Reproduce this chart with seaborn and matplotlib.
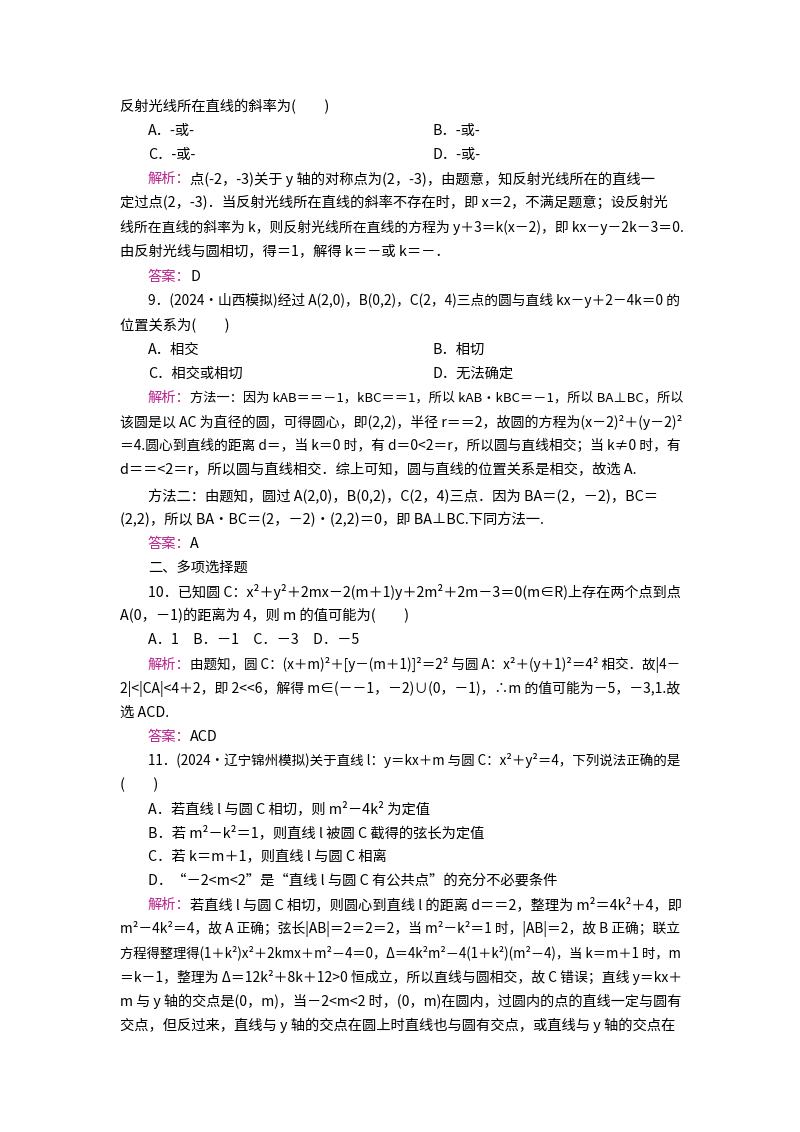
import matplotlib
matplotlib.use("Agg")
import matplotlib.pyplot as plt
import seaborn as sns

sns.set_theme(style="white")
plt.rcParams['font.family'] = ['Noto Sans CJK SC', 'DejaVu Sans']

ACCENT = "#B8248C"
# (indent, y_pixel, prefix, text)
lines = [
    (0, 107, "", "反射光线所在直线的斜率为(　　)"),
    (1, 131, "", "A．-或-"),
    (1, 155, "", "C．-或-"),
    (1, 179, "解析：", "点(-2，-3)关于 y 轴的对称点为(2，-3)，由题意，知反射光线所在的直线一"),
    (0, 203, "", "定过点(2，-3)．当反射光线所在直线的斜率不存在时，即 x＝2，不满足题意；设反射光"),
    (0, 227, "", "线所在直线的斜率为 k，则反射光线所在直线的方程为 y＋3＝k(x－2)，即 kx－y－2k－3＝0."),
    (0, 251, "", "由反射光线与圆相切，得＝1，解得 k＝－或 k＝－．"),
    (1, 277, "答案：", "D"),
    (1, 301, "", "9．(2024·山西模拟)经过 A(2,0)，B(0,2)，C(2，4)三点的圆与直线 kx－y＋2－4k＝0 的"),
    (0, 325, "", "位置关系为(　　)"),
    (1, 350, "", "A．相交"),
    (1, 374, "", "C．相交或相切"),
    (1, 398, "解析：", "方法一：因为 kAB＝＝－1，kBC＝＝1，所以 kAB·kBC＝－1，所以 BA⊥BC，所以"),
    (0, 422, "", "该圆是以 AC 为直径的圆，可得圆心，即(2,2)，半径 r＝＝2，故圆的方程为(x－2)²＋(y－2)²"),
    (0, 446, "", "＝4.圆心到直线的距离 d＝，当 k＝0 时，有 d＝0<2＝r，所以圆与直线相交；当 k≠0 时，有"),
    (0, 470, "", "d＝＝<2＝r，所以圆与直线相交．综上可知，圆与直线的位置关系是相交，故选 A."),
    (1, 496, "", "方法二：由题知，圆过 A(2,0)，B(0,2)，C(2，4)三点．因为 BA＝(2，－2)，BC＝"),
    (0, 520, "", "(2,2)，所以 BA·BC＝(2，－2)·(2,2)＝0，即 BA⊥BC.下同方法一."),
    (1, 544, "答案：", "A"),
    (1, 568, "", "二、多项选择题"),
    (1, 592, "", "10．已知圆 C：x²＋y²＋2mx－2(m＋1)y＋2m²＋2m－3＝0(m∈R)上存在两个点到点"),
    (0, 616, "", "A(0，－1)的距离为 4，则 m 的值可能为(　　)"),
    (1, 640, "", "A．1　B．－1　C．－3　D．－5"),
    (1, 665, "解析：", "由题知，圆 C：(x＋m)²＋[y－(m＋1)]²＝2² 与圆 A：x²＋(y＋1)²＝4² 相交．故|4－"),
    (0, 689, "", "2|<|CA|<4＋2，即 2<<6，解得 m∈(－－1，－2)∪(0，－1)，∴m 的值可能为－5，－3,1.故"),
    (0, 713, "", "选 ACD."),
    (1, 737, "答案：", "ACD"),
    (1, 761, "", "11．(2024·辽宁锦州模拟)关于直线 l：y＝kx＋m 与圆 C：x²＋y²＝4，下列说法正确的是"),
    (0, 785, "", "(　　)"),
    (1, 809, "", "A．若直线 l 与圆 C 相切，则 m²－4k² 为定值"),
    (1, 833, "", "B．若 m²－k²＝1，则直线 l 被圆 C 截得的弦长为定值"),
    (1, 857, "", "C．若 k＝m＋1，则直线 l 与圆 C 相离"),
    (1, 881, "", "D．“－2<m<2”是“直线 l 与圆 C 有公共点”的充分不必要条件"),
    (1, 905, "解析：", "若直线 l 与圆 C 相切，则圆心到直线 l 的距离 d＝＝2，整理为 m²＝4k²＋4，即"),
    (0, 929, "", "m²－4k²＝4，故 A 正确；弦长|AB|＝2＝2＝2，当 m²－k²＝1 时，|AB|＝2，故 B 正确；联立"),
    (0, 953, "", "方程得整理得(1＋k²)x²＋2kmx＋m²－4＝0，Δ＝4k²m²－4(1＋k²)(m²－4)，当 k＝m＋1 时，m"),
    (0, 977, "", "＝k－1，整理为 Δ＝12k²＋8k＋12>0 恒成立，所以直线与圆相交，故 C 错误；直线 y＝kx＋"),
    (0, 1001, "", "m 与 y 轴的交点是(0，m)，当－2<m<2 时，(0，m)在圆内，过圆内的点的直线一定与圆有"),
    (0, 1025, "", "交点，但反过来，直线与 y 轴的交点在圆上时直线也与圆有交点，或直线与 y 轴的交点在"),
]
right_col = [(131, "B．-或-"), (155, "D．-或-"), (350, "B．相切"), (374, "D．无法确定")]

W, H = 800, 1132
RIGHT = 681
fig = plt.figure(figsize=(W / 100, H / 100), dpi=100)
fig.patch.set_facecolor("white")
renderer = fig.canvas.get_renderer()
FS = 10.3
for indent, y, pre, txt in lines:
    x = 120 + 28 * indent
    if pre:
        fig.text(x / W, 1 - y / H, pre, color=ACCENT, fontsize=FS, va="center", ha="left")
        x += 42
    t = fig.text(x / W, 1 - y / H, txt, color="black", fontsize=FS, va="center", ha="left")
    w = t.get_window_extent(renderer).width
    if x + w > RIGHT:
        t.set_fontsize(FS * (RIGHT - x) / w)
for y, txt in right_col:
    fig.text(432 / W, 1 - y / H, txt, color="black", fontsize=FS, va="center", ha="left")

fig.savefig("out.png", dpi=100, facecolor="white")
